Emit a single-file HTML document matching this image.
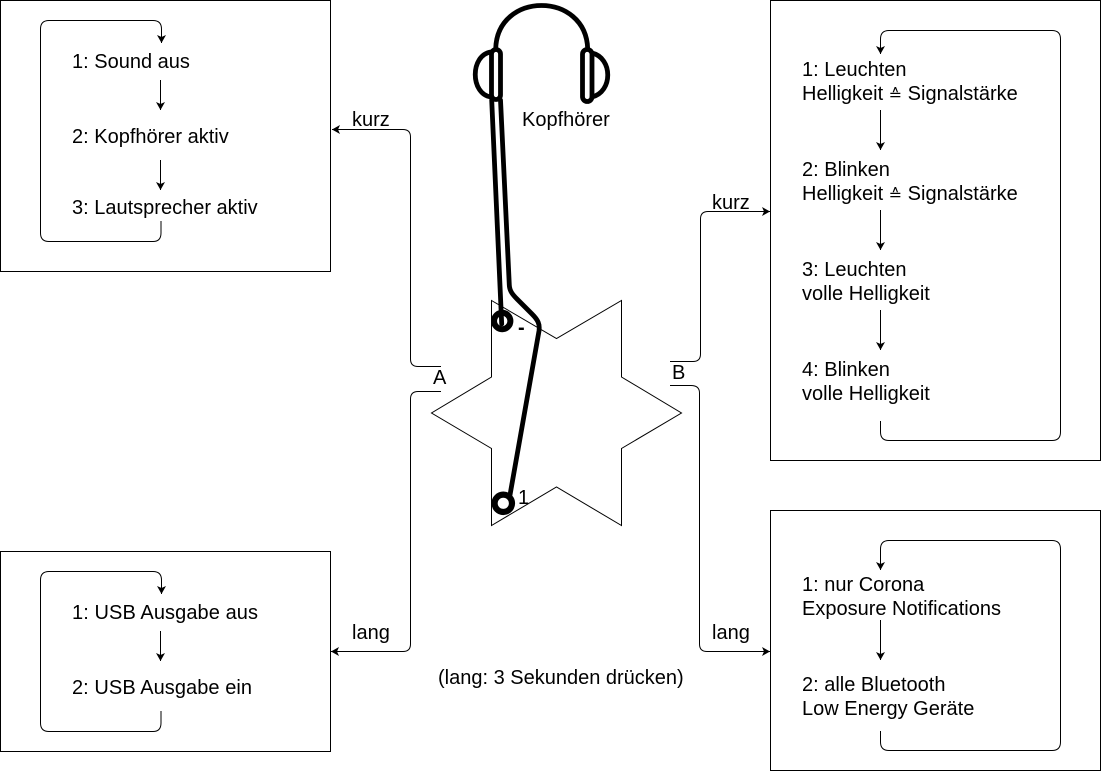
<!DOCTYPE html>
<html><head><meta charset="utf-8"><style>
html,body{margin:0;padding:0;background:#fff}
svg{display:block}
text{font-family:"Liberation Sans","DejaVu Sans",sans-serif;font-size:20px;fill:#000}
tspan.e{font-family:"DejaVu Sans",sans-serif;font-size:16px}
.l{fill:none;stroke:#000;stroke-width:1}
.h{fill:none;stroke:#000;stroke-width:4.8;stroke-linecap:round;stroke-linejoin:round}
</style></head><body>
<svg width="1101" height="771" viewBox="0 0 1101 771" xmlns="http://www.w3.org/2000/svg">
<defs><marker id="a" markerUnits="userSpaceOnUse" markerWidth="9" markerHeight="10" refX="8" refY="4.5" orient="auto"><path d="M0 0L8 4.5L0 9L2 4.5Z" fill="#000"/></marker></defs>
<g class="l">
<rect x="0.5" y="0.5" width="330" height="271"/>
<rect x="0.5" y="551.5" width="330" height="200"/>
<rect x="770.5" y="0.5" width="330" height="460"/>
<rect x="770.5" y="510.5" width="330" height="260"/>
<path d="M491.5 300.5L556.5 338.5L621.5 300.5V377L681.5 413L621.5 448.5V525.5L556.5 487L491.5 525.5V448.5L431.5 413L491.5 377Z"/>
<!-- main connectors -->
<path d="M441 366.500H418Q410.500 366.500 410.500 359V137Q410.500 129.500 403 129.500H332" marker-end="url(#a)"/>
<path d="M441 391.500H418Q410.500 391.500 410.500 399V644Q410.500 651.500 403 651.500H331" marker-end="url(#a)"/>
<path d="M670 361.500H693Q700.500 361.500 700.500 354V219Q700.500 211.500 708 211.500H770" marker-end="url(#a)"/>
<path d="M670 385.500H691Q699.500 385.500 699.500 393V644Q699.500 651.500 707 651.500H770" marker-end="url(#a)"/>
<!-- top-left box -->
<path d="M161 221V233Q161 241.500 153 241.500H49Q40.500 241.500 40.500 233V29Q40.500 20.500 49 20.500H153Q161.500 20.500 161.500 29V43" marker-end="url(#a)"/>
<path d="M160.500 80V110" marker-end="url(#a)"/>
<path d="M160.500 160V190" marker-end="url(#a)"/>
<!-- bottom-left box -->
<path d="M161 711V723Q161 731.500 153 731.500H49Q40.500 731.500 40.500 723V580Q40.500 571.500 49 571.500H153Q161.500 571.500 161.500 580V594" marker-end="url(#a)"/>
<path d="M160.500 631V661" marker-end="url(#a)"/>
<!-- top-right box -->
<path d="M880.500 421V432Q880.500 440.500 889 440.500H1052Q1060.500 440.500 1060.500 432V39Q1060.500 30.500 1052 30.500H889Q880.500 30.500 880.500 39V54" marker-end="url(#a)"/>
<path d="M880.500 110V150" marker-end="url(#a)"/>
<path d="M880.500 210V250" marker-end="url(#a)"/>
<path d="M880.500 310V350" marker-end="url(#a)"/>
<!-- bottom-right box -->
<path d="M880.500 731V742Q880.500 750.500 889 750.500H1052Q1060.500 750.500 1060.500 742V549Q1060.500 540.500 1052 540.500H889Q880.500 540.500 880.500 549V570" marker-end="url(#a)"/>
<path d="M880.500 620V660" marker-end="url(#a)"/>
</g>
<!-- headphones -->
<g class="h">
<path d="M495.700 49C497 -9 586 -9 587.700 49"/>
<rect x="491.500" y="49.500" width="9" height="50" rx="4.500"/>
<rect x="582.500" y="49.500" width="9.500" height="52" rx="4.700"/>
<path d="M491 52C470 55 470 94 491 97"/>
<path d="M592 53C613 58 613 92 592 97"/>
<!-- cables -->
<path d="M491.700 100L501.700 324"/>
<path d="M500.500 100L509.300 285C509.500 291 513 295 517 299L532 314C538 320 540 324 539 331L510 495"/>
</g>
<circle cx="502.200" cy="321" r="8.200" fill="none" stroke="#000" stroke-width="6"/>
<circle cx="503.300" cy="503.300" r="8.700" fill="none" stroke="#000" stroke-width="6.200"/>
<!-- labels -->
<text x="522" y="126">Kopfhörer</text>
<text x="518" y="334" font-weight="bold">-</text>
<text x="518" y="504">1</text>
<text x="433" y="384">A</text>
<text x="672" y="379">B</text>
<text x="352" y="126">kurz</text>
<text x="352" y="639">lang</text>
<text x="712" y="209">kurz</text>
<text x="712" y="639">lang</text>
<text x="438" y="684">(lang: 3 Sekunden drücken)</text>
<text x="72" y="68">1: Sound aus</text>
<text x="72" y="143">2: Kopfhörer aktiv</text>
<text x="72" y="214">3: Lautsprecher aktiv</text>
<text x="72" y="619" textLength="186">1: USB Ausgabe aus</text>
<text x="72" y="694" textLength="180">2: USB Ausgabe ein</text>
<text x="802" y="76">1: Leuchten</text>
<text x="802" y="100">Helligkeit <tspan class="e">≙</tspan> Signalstärke</text>
<text x="802" y="176">2: Blinken</text>
<text x="802" y="200">Helligkeit <tspan class="e">≙</tspan> Signalstärke</text>
<text x="802" y="276">3: Leuchten</text>
<text x="802" y="300">volle Helligkeit</text>
<text x="802" y="376">4: Blinken</text>
<text x="802" y="400">volle Helligkeit</text>
<text x="802" y="591">1: nur Corona</text>
<text x="802" y="615">Exposure Notifications</text>
<text x="802" y="691">2: alle Bluetooth</text>
<text x="802" y="715">Low Energy Geräte</text>
</svg>
</body></html>
